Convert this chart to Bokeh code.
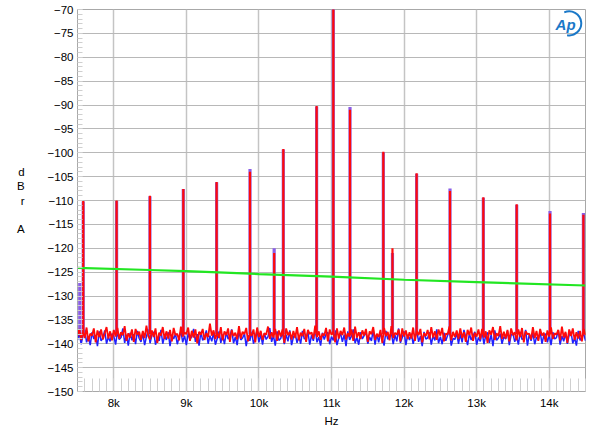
from bokeh.plotting import figure
from bokeh.models import FixedTicker, Range1d, Label
from bokeh.embed import file_html
from bokeh.resources import INLINE

# ---------------- data ----------------
FREQ_START = 7500
FREQ_STEP = 25
FLOOR = -138.0

red_noise = [
    -138.4, -136.9, -139.2, -137.5, -138.8, -136.6, -139.5, -137.9, -138.3, -136.8, -139.7, -137.2, -138.6, -137.0, -139.1, -137.8, -136.5, -138.9, -137.4, -139.3,
    -137.1, -138.5, -136.7, -139.0, -137.6, -138.2, -136.3, -139.4, -137.8, -138.7, -137.0, -139.6, -136.9, -138.1, -137.5, -139.2, -137.3, -138.8, -136.2, -138.4,
    -139.1, -137.2, -138.6, -136.8, -139.8, -137.7, -138.3, -136.5, -139.0, -137.4, -138.9, -137.1, -139.5, -136.7, -138.2, -137.9, -139.3, -136.4, -138.5, -137.6,
    -138.0, -136.6, -139.4, -137.3, -138.7, -137.0, -139.9, -137.5, -138.1, -136.9, -139.2, -137.8, -138.6, -135.8, -138.3, -137.2, -139.0, -137.6, -138.8, -136.5,
    -139.3, -137.4, -138.2, -136.8, -139.6, -137.1, -138.4, -137.7, -139.1, -136.3, -138.9, -137.5, -138.0, -136.7, -139.5, -137.9, -138.3, -137.0, -139.7, -136.6,
    -138.6, -137.3, -139.2, -137.8, -138.1, -136.4, -139.0, -137.6, -138.7, -136.9, -139.4, -137.2, -138.5, -137.0, -139.8, -136.8, -138.2, -137.5, -139.1, -137.3,
    -138.8, -136.5, -139.3, -137.7, -138.4, -136.9, -139.6, -137.1, -138.0, -137.6, -139.0, -136.2, -138.6, -137.4, -139.2, -137.9, -138.3, -136.7, -139.5, -137.0,
    -138.1, -137.5, -139.7, -136.8, -138.9, -137.3, -138.2, -136.6, -139.1, -137.8, -138.5, -137.0, -139.4, -136.4, -138.7, -137.6, -139.0, -137.2, -138.3, -136.9,
    -139.6, -137.4, -138.0, -136.5, -139.2, -137.9, -138.6, -137.1, -139.8, -136.7, -138.4, -137.5, -139.3, -136.3, -138.8, -137.7, -138.1, -137.0, -139.5, -136.8,
    -138.5, -137.2, -139.0, -137.6, -138.9, -136.6, -139.4, -137.3, -138.2, -136.9, -139.7, -137.8, -138.4, -137.1, -139.1, -136.5, -138.7, -137.4, -139.2, -137.0,
    -138.3, -136.7, -139.5, -137.9, -138.0, -136.4, -139.3, -137.5, -138.6, -137.2, -139.0, -136.8, -138.8, -137.6, -139.6, -137.1, -138.2, -136.6, -139.4, -137.7,
    -138.5, -137.0, -139.1, -136.9, -138.7, -137.4, -139.8, -137.2, -138.1, -136.5, -139.2, -137.8, -138.4, -136.3, -139.0, -137.5, -138.9, -137.1, -139.5, -136.8,
    -138.2, -137.6, -139.3, -137.0, -138.6, -136.7, -139.7, -137.4, -138.0, -137.9, -139.1, -136.5, -138.8, -137.3, -139.4, -136.9, -138.3, -137.7, -139.6, -137.2,
    -138.5, -136.6, -139.0, -137.8, -138.1, -137.1, -139.3, -136.4, -138.7, -137.5, -139.8, -137.0, -138.4, -136.8, -139.2, -137.6, -138.9, -137.3, -139.5, -136.9,
    -138.2,
]

blue_noise = [
    -139.2, -137.8, -140.1, -138.3, -137.1, -139.7, -138.5, -140.3, -137.6, -139.0, -138.2, -140.5, -137.4, -139.4, -138.8, -137.2, -140.0, -138.6, -139.5, -137.9,
    -138.4, -140.2, -137.5, -139.1, -138.7, -136.8, -139.8, -138.1, -140.4, -137.7, -139.3, -138.0, -140.1, -137.3, -138.9, -139.6, -137.8, -140.3, -138.5, -137.0,
    -139.9, -138.2, -137.5, -140.2, -138.8, -139.4, -137.1, -140.0, -138.4, -139.2, -137.6, -140.5, -138.1, -139.0, -137.9, -140.1, -138.6, -137.4, -139.7, -138.3,
    -140.3, -137.8, -139.1, -138.5, -136.9, -139.6, -138.0, -140.4, -137.5, -139.3, -138.7, -137.2, -140.0, -138.3, -139.5, -137.7, -140.2, -138.9, -137.4, -139.8,
    -138.1, -140.1, -137.6, -139.0, -138.4, -137.0, -139.9, -138.6, -140.3, -137.3, -139.2, -138.8, -137.9, -140.5, -138.2, -139.4, -137.5, -140.0, -138.7, -137.1,
    -139.7, -138.0, -140.2, -137.8, -139.1, -138.5, -136.7, -139.6, -138.3, -140.4, -137.4, -139.3, -138.9, -137.6, -140.1, -138.1, -139.5, -137.2, -140.3, -138.6,
    -137.9, -139.8, -138.4, -140.0, -137.3, -139.0, -138.7, -137.5, -140.2, -138.2, -139.4, -136.9, -139.7, -138.6, -140.4, -137.7, -139.1, -138.0, -137.6, -140.1,
    -138.5, -139.3, -137.2, -140.3, -138.8, -137.8, -139.6, -138.1, -140.5, -137.4, -139.2, -138.4, -137.0, -139.9, -138.7, -140.2, -137.6, -139.0, -138.3, -137.5,
    -140.0, -138.6, -139.4, -137.1, -140.2, -138.0, -139.7, -137.8, -138.9, -140.4, -137.3, -139.1, -138.5, -137.7, -140.1, -138.2, -139.5, -136.8, -139.8, -138.7,
    -137.4, -140.3, -138.1, -139.2, -137.9, -140.0, -138.6, -137.2, -139.6, -138.4, -140.5, -137.5, -139.0, -138.8, -137.6, -140.2, -138.3, -139.3, -137.0, -139.9,
    -138.5, -140.1, -137.7, -139.4, -138.2, -137.3, -140.4, -138.9, -139.1, -137.8, -140.0, -138.0, -139.7, -137.1, -138.6, -140.3, -137.9, -139.2, -138.4, -137.5,
    -140.2, -138.7, -139.5, -137.4, -140.1, -138.3, -137.6, -139.8, -138.1, -140.5, -137.2, -139.3, -138.8, -137.9, -140.0, -138.5, -139.0, -137.3, -140.3, -138.2,
    -137.8, -139.6, -138.4, -140.2, -137.5, -139.1, -138.9, -137.1, -140.4, -138.0, -139.4, -137.7, -140.1, -138.6, -139.2, -137.4, -140.0, -138.3, -137.9, -139.7,
    -138.1, -140.3, -137.6, -139.0, -138.7, -137.2, -140.2, -138.4, -139.5, -137.8, -140.0, -138.2, -137.5, -139.9, -138.8, -140.4, -137.3, -139.3, -138.6, -137.9,
    -139.4,
]

peak_freqs = [7531, 7579, 8039, 8498, 8958, 9417, 9877, 10210, 10336, 10795,
              11025, 11255, 11714, 11840, 12173, 12633, 13092, 13552, 14011, 14471]
red_peaks = [-138.0, -110.1, -110.0, -109.0, -107.6, -106.1, -104.0, -121.0, -99.2, -90.2,
             0.0, -91.0, -99.8, -120.0, -104.3, -108.0, -109.3, -110.8, -112.7, -113.0]
blue_peaks = [-127.3, -110.2, -110.1, -109.1, -107.6, -106.2, -103.4, -120.0, -99.3, -90.3,
              0.0, -90.4, -99.9, -121.0, -104.4, -107.5, -109.4, -110.9, -112.2, -112.6]

green_freqs = [7500, 8500, 9000, 10000, 11000, 12000, 13000, 14500]
green_levels = [-124.1, -124.55, -124.8, -125.4, -125.95, -126.6, -127.1, -127.8]

y_ticks = list(range(-150, -69, 5))
y_minor = list(range(-150, -69, 1))
x_ticks = [8000, 9000, 10000, 11000, 12000, 13000, 14000]
x_tick_labels = ["8k", "9k", "10k", "11k", "12k", "13k", "14k"]
x_minor = list(range(7500, 14501, 100))

y_label_text = "d\nB\nr\n\nA"
x_label_text = "Hz"

# ---------------- figure ----------------
FONT = "Liberation Sans"
p = figure(width=600, height=430, x_range=Range1d(7500, 14500), y_range=Range1d(-150, -70),
           output_backend="svg", toolbar_location=None,
           min_border_left=77, min_border_right=15, min_border_top=9, min_border_bottom=39)
p.background_fill_color = "white"
p.border_fill_color = "white"
p.outline_line_color = "#a8a8a8"
p.outline_line_width = 1

for ax in (p.xaxis[0], p.yaxis[0]):
    ax.axis_line_color = "#a8a8a8"
    ax.major_tick_out = 0
    ax.minor_tick_out = 0
    ax.major_tick_line_color = "#cfcfcf"
    ax.minor_tick_line_color = "#cfcfcf"
    ax.major_label_text_font = FONT
    ax.major_label_text_font_size = "11.5px"
    ax.major_label_text_color = "black"
    ax.axis_label_text_font = FONT
    ax.axis_label_text_font_size = "11.5px"
    ax.axis_label_text_font_style = "normal"
    ax.axis_label_text_color = "black"

p.xaxis.ticker = FixedTicker(ticks=x_ticks, minor_ticks=x_minor)
p.xaxis.major_label_overrides = dict(zip(x_ticks, x_tick_labels))
p.xaxis.major_tick_in = 13
p.xaxis.minor_tick_in = 13
p.xaxis.major_label_standoff = 5
p.xaxis.axis_label = x_label_text
p.xaxis.axis_label_standoff = 3

p.yaxis.ticker = FixedTicker(ticks=y_ticks, minor_ticks=y_minor)
p.yaxis.major_tick_in = 5
p.yaxis.minor_tick_in = 5
p.yaxis.major_label_standoff = 4
p.yaxis.axis_label = y_label_text
p.yaxis.axis_label_orientation = "horizontal"
p.yaxis.axis_label_standoff = 20
p.yaxis.axis_label_text_line_height = 1.2

p.xgrid.ticker = FixedTicker(ticks=x_ticks)
p.ygrid.ticker = FixedTicker(ticks=y_ticks)
p.xgrid.grid_line_color = "#c4c4c4"
p.xgrid.grid_line_width = 1.5
p.ygrid.grid_line_color = "#b8b8b8"
p.ygrid.grid_line_width = 1.2

freqs = [FREQ_START + i * FREQ_STEP for i in range(len(red_noise))]

# blue channel
p.line(freqs, blue_noise, line_color="#2020ff", line_width=1.5)
p.segment(x0=peak_freqs, y0=[FLOOR] * len(peak_freqs), x1=peak_freqs, y1=blue_peaks,
          line_color="#8a5ee6", line_width=3.2)
# red channel
p.line(freqs, red_noise, line_color="#ff0a0a", line_width=1.8)
p.segment(x0=peak_freqs, y0=[FLOOR] * len(peak_freqs), x1=peak_freqs, y1=red_peaks,
          line_color="#ff0a0a", line_width=2.2)
# green reference
p.line(green_freqs, green_levels, line_color="#22e622", line_width=2.2)

# AP logo
p.arc(x=[14276], y=[-72.9], radius=12, radius_units="screen",
      start_angle=-1.75, end_angle=2.0, direction="anticlock",
      line_color="#1a78c8", line_width=2)
p.add_layout(Label(x=14225, y=-73.1, text="Ap", text_align="center",
                   text_baseline="middle", text_font=FONT, text_font_size="15px",
                   text_font_style="bold italic", text_color="#1a78c8"))

open("out.html", "w").write(file_html(p, INLINE))
